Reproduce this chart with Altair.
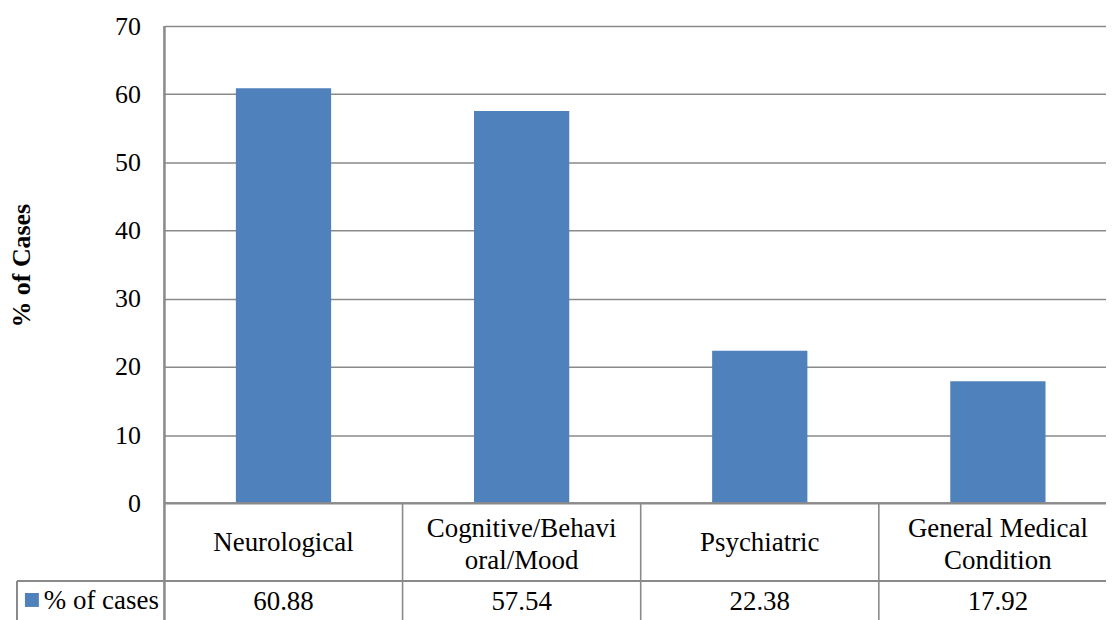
import altair as alt
import pandas as pd

categories = ["Neurological", "Cognitive/Behavi\noral/Mood", "Psychiatric", "General Medical\nCondition"]
values = [60.88, 57.54, 22.38, 17.92]
series_name = "% of cases"
y_ticks = [0, 10, 20, 30, 40, 50, 60, 70]

FONT = "Liberation Serif"
BAR = "#4F81BD"
LINE = "#8a8a8a"

W = 945          # plot width in px
H = 597          # plot height in px
PX_PER_CAT = 239
Y_ZERO_PX = 479  # pixel of value 0
PX_PER_UNIT = Y_ZERO_PX / 70.0
Y_MIN = -(H - Y_ZERO_PX) / PX_PER_UNIT
X_MAX = -0.5 + W / PX_PER_CAT

df = pd.DataFrame({
    "idx": list(range(len(categories))),
    "category": categories,
    "value": values,
})
df["lines"] = df["category"].str.count("\n") + 1

xs = alt.Scale(domain=[-0.5, X_MAX], nice=False, zero=False)
ys = alt.Scale(domain=[Y_MIN, 70], nice=False, zero=False)

base = alt.Chart(df)

# gridlines + y axis (invisible carrier)
grid = alt.Chart(pd.DataFrame({"t": y_ticks})).mark_point(opacity=0).encode(
    y=alt.Y("t:Q", scale=ys, axis=alt.Axis(
        values=y_ticks, grid=True, gridColor=LINE, gridWidth=1.6,
        domain=False, ticks=False, labelFont=FONT, labelFontSize=26,
        labelColor="black", labelPadding=24,
        title="% of Cases", titleFont=FONT, titleFontSize=26, titleFontWeight="bold",
        titleColor="black", titleAngle=270, titleX=-143, titleY=240,
        titleAlign="center", titleBaseline="middle")),
)

bars = base.transform_calculate(
    x0="datum.idx - 0.2", x1="datum.idx + 0.2"
).mark_bar(color=BAR).encode(
    x=alt.X("x0:Q", scale=xs, axis=None),
    x2="x1:Q",
    y=alt.Y("value:Q", scale=ys),
    y2=alt.datum(0),
)

# table structure
left_border = base.mark_rule(color=LINE, strokeWidth=1.6).encode(
    x=alt.value(0), y=alt.value(0), y2=alt.value(H))
dividers = base.transform_filter("datum.idx > 0").transform_calculate(
    xd="datum.idx - 0.5"
).mark_rule(color=LINE, strokeWidth=1.6).encode(
    x=alt.X("xd:Q", scale=xs), y=alt.value(Y_ZERO_PX), y2=alt.value(H))
zero_line = base.mark_rule(color=LINE, strokeWidth=1.6).encode(
    x=alt.value(0), x2=alt.value(W), y=alt.value(Y_ZERO_PX))
row_line = base.mark_rule(color=LINE, strokeWidth=1.6).encode(
    x=alt.value(-148), x2=alt.value(W), y=alt.value(557))
legend_border = base.mark_rule(color=LINE, strokeWidth=1.6).encode(
    x=alt.value(-148), y=alt.value(557), y2=alt.value(H))

cat_one = base.transform_filter("datum.lines == 1").mark_text(
    font=FONT, fontSize=27, color="black", baseline="middle", align="center").encode(
    x=alt.X("idx:Q", scale=xs), y=alt.value(519), text="category:N")
cat_two = base.transform_filter("datum.lines == 2").mark_text(
    font=FONT, fontSize=27, color="black", lineBreak="\n", lineHeight=32,
    baseline="middle", align="center").encode(
    x=alt.X("idx:Q", scale=xs), y=alt.value(505), text="category:N")
val_text = base.mark_text(font=FONT, fontSize=27, color="black",
                          baseline="middle", align="center").encode(
    x=alt.X("idx:Q", scale=xs), y=alt.value(578), text=alt.Text("value:Q", format=".2f"))

leg = pd.DataFrame({"name": [series_name]})
leg_square = alt.Chart(leg).mark_square(color=BAR, opacity=1, size=196).encode(
    x=alt.value(-133), y=alt.value(576))
leg_text = alt.Chart(leg).mark_text(font=FONT, fontSize=27, color="black",
                                    align="left", baseline="middle").encode(
    x=alt.value(-121), y=alt.value(577), text="name:N")

chart = alt.layer(
    grid, bars, left_border, dividers, zero_line, row_line, legend_border,
    cat_one, cat_two, val_text, leg_square, leg_text
).properties(
    width=W, height=H,
    autosize=alt.AutoSizeParams(type="none"),
    padding={"left": 157, "top": 17, "right": 0, "bottom": 0},
).configure_view(stroke=None).configure(background="white")

chart.save("out.html", embed_options={"renderer": "svg", "actions": False})
